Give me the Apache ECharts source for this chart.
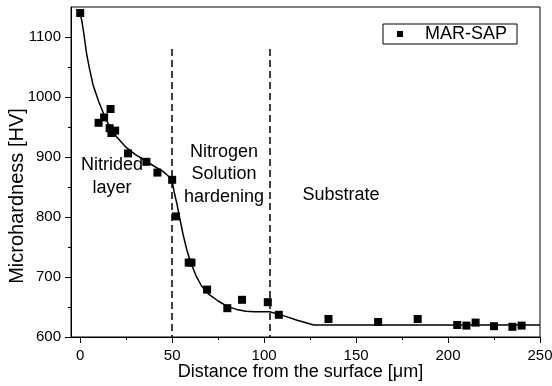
<!DOCTYPE html>
<html>
<head>
<meta charset="utf-8">
<script src="https://cdn.jsdelivr.net/npm/echarts@6/dist/echarts.min.js"></script>
<style>html,body{margin:0;padding:0;background:#fff;}#c{width:552px;height:386px;}</style>
</head>
<body>
<div id="c"></div>
<script>
// Measured hardness points (MAR-SAP)
var depthX = [0, 10, 13, 16.5, 16, 17, 19, 26, 36, 42, 50, 52, 59, 60.5, 69, 80, 88, 102, 108, 135, 162, 183.5, 205, 210, 215, 225, 235, 240];
var hardnessY = [1140, 957, 966, 980, 948, 940, 944, 906, 892, 874, 862, 801, 724, 724, 679, 648, 662, 658, 637, 630, 625, 630, 620, 619, 624, 618, 617, 619];
// Fitted trend curve
var fitX = [0, 1, 2, 3.5, 5, 7, 10, 13, 16, 20, 25, 30, 35, 40, 45, 48, 50, 51, 52.5, 54, 56, 58, 60, 63, 66, 70, 75, 80, 85, 90, 95, 103, 110, 118, 127, 250];
var fitY = [1140, 1125, 1105, 1072, 1048, 1020, 993, 970, 950, 933, 916, 904, 895, 885, 876, 868, 860, 843, 823, 800, 770, 745, 725, 702, 685, 671, 660, 651, 646, 643, 642, 642, 636, 628, 620, 620];
// Zone boundaries
var boundaryX = [50, 103];
var boundaryTop = 1080;
// Tick values
var xMajorTicks = [0, 50, 100, 150, 200, 250];
var xMinorTicks = [25, 75, 125, 175, 225];
var yMajorTicks = [600, 700, 800, 900, 1000, 1100];
var yMinorTicks = [650, 750, 850, 950, 1050];
var zoneLabels = ['Nitrided\nlayer', 'Nitrogen\nSolution\nhardening', 'Substrate'];

var FONT = 'Liberation Sans, Arial, Helvetica, sans-serif';
var chart = echarts.init(document.getElementById('c'), null, {renderer: 'canvas'});

function pairs(xs, ys) { return xs.map(function (x, i) { return [x, ys[i]]; }); }
function plain(v) { return String(v); }

var option = {
  animation: false,
  backgroundColor: '#fff',
  textStyle: {fontFamily: FONT, color: '#000'},
  grid: {left: 71, right: 12, top: 7, bottom: 49, show: true, borderColor: '#000', borderWidth: 1, outerBoundsMode: 'none', containLabel: false},
  legend: {
    data: ['MAR-SAP'], left: 383, top: 24, orient: 'horizontal',
    icon: 'rect', itemWidth: 6, itemHeight: 6,
    borderColor: '#000', borderWidth: 1, borderRadius: 0,
    padding: [1, 10, 1, 14],
    textStyle: {fontSize: 18, fontFamily: FONT, color: '#000', padding: [0, 0, 0, 17]}
  },
  xAxis: [{
    type: 'value', min: -5, max: 250, position: 'bottom',
    name: 'Distance from the surface [\u03bcm]', nameLocation: 'middle', nameGap: 26, nameMoveOverlap: false,
    nameTextStyle: {fontSize: 18, fontFamily: FONT, color: '#000', padding: [0, 10, 0, 0]},
    axisLine: {show: true, onZero: false, lineStyle: {color: '#000', width: 1}},
    axisTick: {show: true, inside: false, length: 6, customValues: xMajorTicks, lineStyle: {color: '#000', width: 1}},
    axisLabel: {customValues: xMajorTicks, formatter: plain, fontSize: 15, fontFamily: FONT, color: '#000', margin: 11},
    splitLine: {show: false}
  }, {
    type: 'value', min: -5, max: 250, position: 'bottom', gridIndex: 0,
    axisLine: {show: false, onZero: false},
    axisTick: {show: true, inside: false, length: 3, customValues: xMinorTicks, lineStyle: {color: '#000', width: 1}},
    axisLabel: {show: false},
    splitLine: {show: false}
  }],
  yAxis: [{
    type: 'value', min: 600, max: 1150, position: 'left',
    name: 'Microhardness [HV]', nameLocation: 'middle', nameGap: 44, nameRotate: 90, nameMoveOverlap: false,
    nameTextStyle: {fontSize: 20, fontFamily: FONT, color: '#000', padding: [0, 48, 0, 0]},
    axisLine: {show: true, onZero: false, lineStyle: {color: '#000', width: 1}},
    axisTick: {show: true, inside: false, length: 6, customValues: yMajorTicks, lineStyle: {color: '#000', width: 1}},
    axisLabel: {customValues: yMajorTicks, formatter: plain, fontSize: 15, fontFamily: FONT, color: '#000', margin: 10},
    splitLine: {show: false}
  }, {
    type: 'value', min: 600, max: 1150, position: 'left', gridIndex: 0,
    axisLine: {show: false, onZero: false},
    axisTick: {show: true, inside: false, length: 3, customValues: yMinorTicks, lineStyle: {color: '#000', width: 1}},
    axisLabel: {show: false},
    splitLine: {show: false}
  }],
  series: [{
    name: 'fit', type: 'line', xAxisIndex: 0, yAxisIndex: 0,
    data: pairs(fitX, fitY), showSymbol: false, symbol: 'none', smooth: false,
    lineStyle: {color: '#000', width: 1.5}, silent: true, z: 2,
    markLine: {
      silent: true, symbol: ['none', 'none'], label: {show: false},
      lineStyle: {color: '#000', width: 1.5, type: [7, 4]},
      data: boundaryX.map(function (bx) { return [{coord: [bx, boundaryTop]}, {coord: [bx, 600]}]; })
    }
  }, {
    name: 'MAR-SAP', type: 'scatter', xAxisIndex: 0, yAxisIndex: 0,
    data: pairs(depthX, hardnessY), symbol: 'rect', symbolSize: 8,
    itemStyle: {color: '#000', opacity: 1}, z: 3
  }],
  graphic: [
    {type: 'text', x: 112, y: 176.5, silent: true, style: {text: zoneLabels[0], font: '18px ' + FONT, fill: '#000', align: 'center', verticalAlign: 'middle', lineHeight: 23}},
    {type: 'text', x: 224, y: 174.5, silent: true, style: {text: zoneLabels[1], font: '18px ' + FONT, fill: '#000', align: 'center', verticalAlign: 'middle', lineHeight: 22.5}},
    {type: 'text', x: 341, y: 195, silent: true, style: {text: zoneLabels[2], font: '18px ' + FONT, fill: '#000', align: 'center', verticalAlign: 'middle'}}
  ]
};
chart.setOption(option);
</script>
</body>
</html>
